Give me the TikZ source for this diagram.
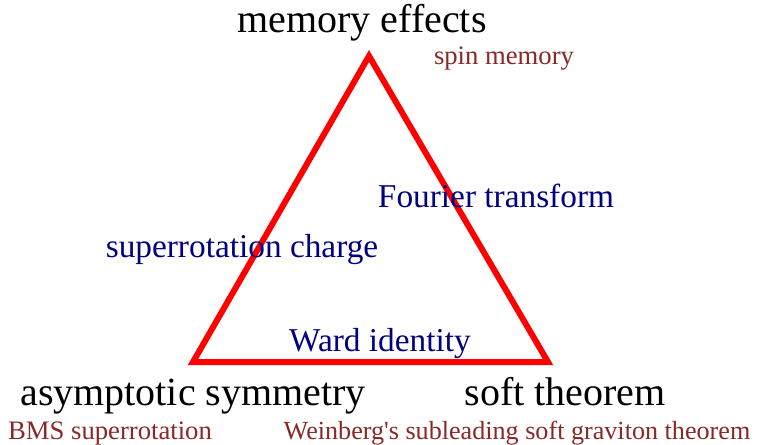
\documentclass[tikz,border=0pt]{standalone}
\usepackage{fontspec}
\setmainfont{Liberation Serif}
\definecolor{linkblue}{RGB}{0,0,128}
\definecolor{casered}{RGB}{136,40,40}
\tikzset{
  corner/.style={anchor=base,font=\fontsize{30}{36}\selectfont},
  link/.style={anchor=base,text=linkblue,font=\fontsize{25}{30}\selectfont},
  case/.style={anchor=base,text=casered,font=\fontsize{20}{24}\selectfont}
}
\begin{document}
\begin{tikzpicture}[x=0.75pt,y=-0.75pt]
\useasboundingbox (0,0) rectangle (764,445);
\coordinate (mem) at (369,56);
\coordinate (asym) at (193,362);
\coordinate (soft) at (548,362);
\draw[red,line width=4.5pt,line join=miter] (mem) -- (asym) -- (soft) -- cycle;
\node[corner] (memory) at (362,33) {memory effects};
\node[case] (spin) at (504,65) {spin memory};
\node[link] (fourier) at (496,208) {Fourier transform};
\node[link] (charge) at (242,258) {superrotation charge};
\node[link] (ward) at (380,352) {Ward identity};
\node[corner] (symmetry) at (193,405) {asymptotic symmetry};
\node[corner] (theorem) at (565,405) {soft theorem};
\node[case] (bms) at (110,439) {BMS superrotation};
\node[case,font=\fontsize{19.6}{24}\selectfont] (weinberg) at (517,439) {Weinberg\textquotesingle s subleading soft graviton theorem};
\end{tikzpicture}
\end{document}
